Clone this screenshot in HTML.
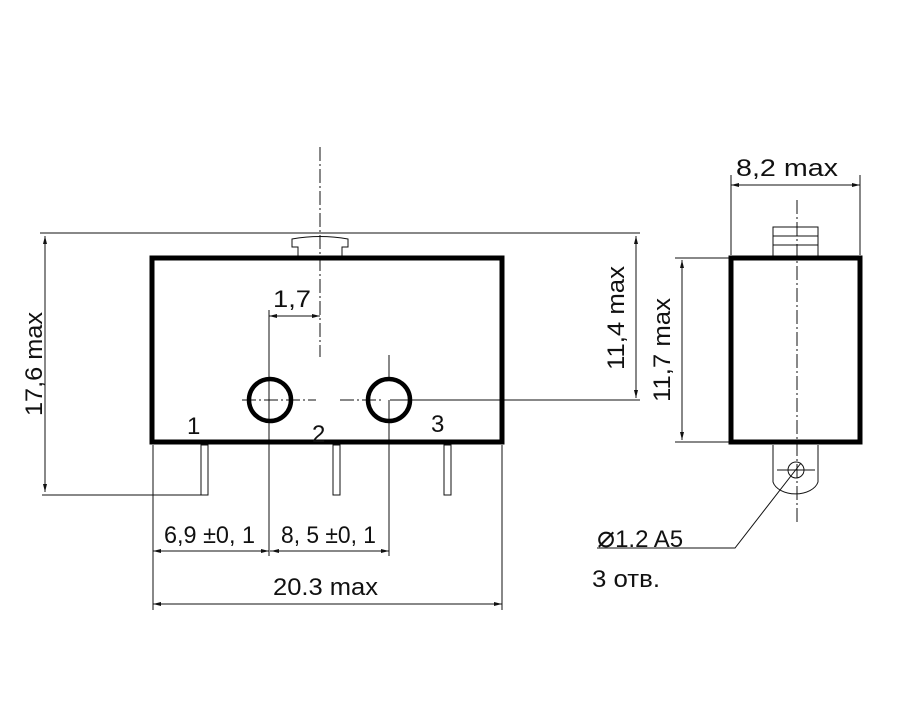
<!DOCTYPE html>
<html><head><meta charset="utf-8"><style>html,body{margin:0;padding:0;background:#fff}svg{display:block}text{font-family:"Liberation Sans",sans-serif;fill:#111;font-size:24px}</style></head><body>
<svg width="900" height="711" viewBox="0 0 900 711" xmlns="http://www.w3.org/2000/svg">
<g stroke="#111" fill="none" stroke-width="1">
<line x1="320" y1="147" x2="320" y2="357" stroke-dasharray="14,3,2,3"/>
<line x1="797" y1="200" x2="797" y2="525" stroke-dasharray="14,3,2,3"/>
<line x1="242" y1="400" x2="316" y2="400" stroke-dasharray="14,3,2,3"/>
<line x1="340" y1="400" x2="384" y2="400" stroke-dasharray="14,3,2,3"/>
<line x1="389" y1="355" x2="389" y2="380"/>
<line x1="40" y1="233" x2="640" y2="233"/>
<path d="M298 256 V247 H292 V239 Q320 234 348 239 V247 H342 V256"/>
<rect x="201" y="445" width="7" height="50"/>
<rect x="333" y="445" width="7" height="50"/>
<rect x="444" y="445" width="7" height="50"/>
<line x1="42" y1="495" x2="204" y2="495"/>
<line x1="45" y1="236" x2="45" y2="492"/>
<line x1="153" y1="445" x2="153" y2="610"/>
<line x1="269" y1="310" x2="269" y2="556"/>
<line x1="389" y1="400" x2="389" y2="556"/>
<line x1="502" y1="445" x2="502" y2="610"/>
<line x1="390" y1="400" x2="640" y2="400"/>
<line x1="153" y1="551" x2="269" y2="551"/>
<line x1="270" y1="551" x2="389" y2="551"/>
<line x1="153" y1="604" x2="502" y2="604"/>
<line x1="269" y1="316" x2="320" y2="316"/>
<line x1="636" y1="236" x2="636" y2="398"/>
<line x1="675" y1="258" x2="729" y2="258"/>
<line x1="675" y1="442" x2="729" y2="442"/>
<line x1="682" y1="260" x2="682" y2="440"/>
<line x1="731" y1="175" x2="731" y2="255"/>
<line x1="860" y1="175" x2="860" y2="255"/>
<line x1="731" y1="185" x2="860" y2="185"/>
<rect x="773" y="227" width="45" height="29"/>
<line x1="773" y1="236" x2="818" y2="236"/>
<line x1="773" y1="245" x2="818" y2="245"/>
<path d="M773 445 V482 A23 15 0 0 0 818 482 V445"/>
<circle cx="796" cy="470" r="8"/>
<line x1="777" y1="470" x2="815" y2="470"/>
<path d="M801 463 L735 548 H597"/>
</g>
<g fill="#111">
<path d="M45 236 l-2 8 h4z M45 492 l-2 -8 h4z"/>
<path d="M153 551 l8 -2 v4z M269 551 l-8 -2 v4z M271 551 l8 -2 v4z M389 551 l-8 -2 v4z"/>
<path d="M153 604 l8 -2 v4z M502 604 l-8 -2 v4z"/>
<path d="M269 316 l8 -2 v4z M320 316 l-8 -2 v4z"/>
<path d="M636 236 l-2 8 h4z M636 398 l-2 -8 h4z"/>
<path d="M682 260 l-2 8 h4z M682 440 l-2 -8 h4z"/>
<path d="M731 185 l8 -2 v4z M860 185 l-8 -2 v4z"/>
</g>
<g stroke="#000" fill="none" stroke-width="5">
<rect x="152" y="258" width="350" height="184"/>
<rect x="731" y="258" width="129" height="184"/>
<circle cx="270" cy="400" r="21" stroke-width="4.5"/>
<circle cx="389" cy="400" r="21" stroke-width="4.5"/>
</g>
<text x="273" y="307" textLength="38" lengthAdjust="spacingAndGlyphs">1,7</text>
<text x="187" y="434" font-size="25">1</text>
<text x="312" y="442" font-size="25">2</text>
<text x="431" y="432" font-size="25">3</text>
<text x="164" y="543" font-size="26" textLength="91" lengthAdjust="spacingAndGlyphs">6,9 ±0, 1</text>
<text x="281" y="543" font-size="26" textLength="95" lengthAdjust="spacingAndGlyphs">8, 5 ±0, 1</text>
<text x="273" y="595" textLength="105" lengthAdjust="spacingAndGlyphs">20.3 max</text>
<text x="736" y="176" textLength="102" lengthAdjust="spacingAndGlyphs">8,2 max</text>
<text transform="translate(42,364) rotate(-90)" x="-52" textLength="104" lengthAdjust="spacingAndGlyphs">17,6 max</text>
<text transform="translate(624,318) rotate(-90)" x="-52" textLength="104" lengthAdjust="spacingAndGlyphs">11,4 max</text>
<text transform="translate(670,350) rotate(-90)" x="-52" textLength="104" lengthAdjust="spacingAndGlyphs">11,7 max</text>
<text x="597" y="547"><tspan font-size="30">⌀</tspan><tspan>1.2 A5</tspan></text>
<text x="592" y="587" textLength="68" lengthAdjust="spacingAndGlyphs">3 отв.</text>
</svg>
</body></html>
